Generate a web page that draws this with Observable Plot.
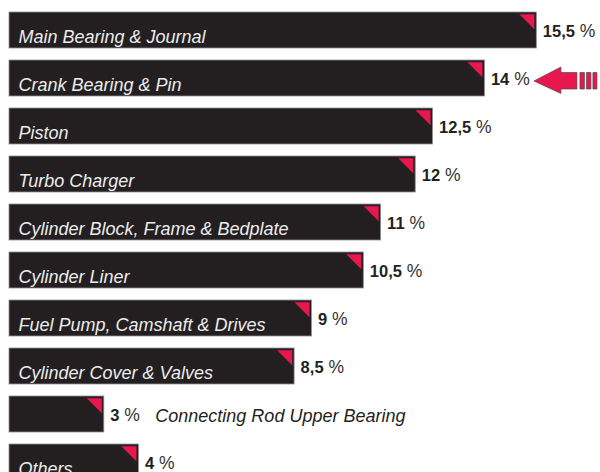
<!DOCTYPE html>
<html>
<head>
<meta charset="utf-8">
<script src="https://cdn.jsdelivr.net/npm/d3@7"></script>
<script src="https://cdn.jsdelivr.net/npm/@observablehq/plot@0.6"></script>
<style>
  html, body { margin: 0; padding: 0; background: #fff; }
  #chart svg { display: block; }
</style>
</head>
<body>
<div id="chart"></div>
<script>
const categories = [
  "Main Bearing & Journal",
  "Crank Bearing & Pin",
  "Piston",
  "Turbo Charger",
  "Cylinder Block, Frame & Bedplate",
  "Cylinder Liner",
  "Fuel Pump, Camshaft & Drives",
  "Cylinder Cover & Valves",
  "Connecting Rod Upper Bearing",
  "Others"
];
const values = [15.5, 14, 12.5, 12, 11, 10.5, 9, 8.5, 3, 4];
const valueLabels = ["15,5", "14", "12,5", "12", "11", "10,5", "9", "8,5", "3", "4"];
const outsideLabels = ["Connecting Rod Upper Bearing"];
const highlighted = ["Crank Bearing & Pin"];

const data = categories.map((c, i) => ({
  category: c,
  value: values[i],
  label: valueLabels[i],
  outside: outsideLabels.includes(c)
}));

const FONT = "'Liberation Sans', Arial, Helvetica, sans-serif";

const triangle = {
  draw(ctx) {
    ctx.moveTo(-7.5, -7.5);
    ctx.lineTo(7.5, -7.5);
    ctx.lineTo(7.5, 7.5);
    ctx.closePath();
  }
};

const arrow = {
  draw(ctx) {
    ctx.moveTo(0, 0);
    ctx.lineTo(27, -14);
    ctx.lineTo(27, -8.5);
    ctx.lineTo(43, -8.5);
    ctx.lineTo(43, 8);
    ctx.lineTo(27, 8);
    ctx.lineTo(27, 12.5);
    ctx.closePath();
    ctx.rect(46, -8.5, 4.5, 16.5);
    ctx.rect(52.5, -8.5, 4.5, 16.5);
    ctx.rect(59, -8.5, 4, 16.5);
  }
};

const chart = Plot.plot({
  width: 600,
  height: 472,
  marginLeft: 0,
  marginRight: 0,
  marginTop: 0,
  marginBottom: 0,
  style: { fontFamily: FONT, background: "#fff" },
  x: { domain: [0, 17.34], axis: null },
  y: {
    type: "band",
    domain: categories,
    range: [12, 480.5],
    paddingInner: 0.24,
    paddingOuter: 0,
    axis: null
  },
  marks: [
    Plot.barX(data, {
      x1: 0,
      x2: "value",
      y: "category",
      insetLeft: 9,
      fill: "#231f20",
      stroke: "#8f8f8f",
      strokeWidth: 0.8
    }),
    Plot.dot(data, {
      x: "value",
      y: "category",
      symbol: triangle,
      fill: "#e8184f",
      dx: -10,
      dy: -8.75
    }),
    Plot.text(data.filter(d => !d.outside), {
      x: 0,
      y: "category",
      text: "category",
      textAnchor: "start",
      dx: 18,
      dy: 7,
      fill: "#ececec",
      fontSize: 18,
      fontStyle: "italic",
      fontWeight: 300
    }),
    Plot.text(data.filter(d => d.outside), {
      x: "value",
      y: "category",
      text: "category",
      textAnchor: "start",
      dx: 51,
      dy: 2,
      fill: "#231f20",
      fontSize: 18,
      fontStyle: "italic",
      fontWeight: 300
    }),
    Plot.text(data, {
      x: "value",
      y: "category",
      text: d => d.label + " %",
      textAnchor: "start",
      dx: 6,
      dy: 1.7,
      fill: "#231f20",
      fontSize: 16.5,
      fontWeight: "bold"
    }),
    Plot.dot(data.filter(d => highlighted.includes(d.category)), {
      x: "value",
      y: "category",
      symbol: arrow,
      fill: "#e8184f",
      stroke: "#4a4a4a",
      strokeWidth: 0.7,
      dx: 49,
      dy: 2.5
    })
  ]
});

// split value labels into bold number + regular "%"
d3.select(chart).selectAll("text").each(function () {
  const t = d3.select(this);
  const s = t.text();
  if (!s.endsWith(" %")) return;
  const num = s.slice(0, s.length - 2);
  t.text(null);
  t.append("tspan").attr("font-weight", "bold").style("font-weight", "bold").text(num);
  t.append("tspan").attr("font-weight", "normal").style("font-weight", "normal")
    .attr("font-size", 17.5).attr("fill", "#333").text(" %");
});

document.getElementById("chart").append(chart);
</script>
</body>
</html>
